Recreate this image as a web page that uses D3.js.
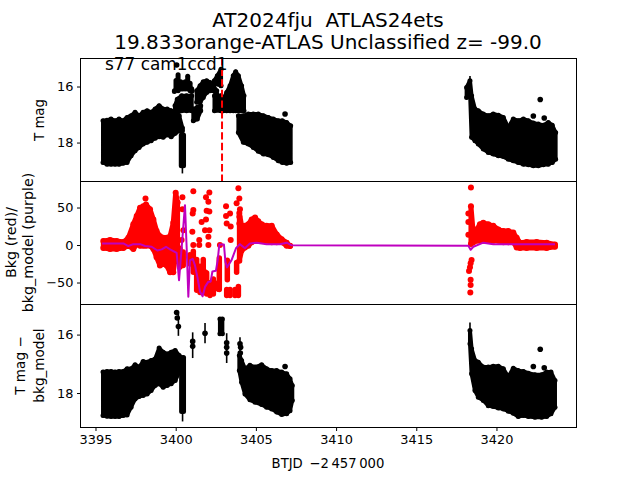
<!DOCTYPE html>
<html><head><meta charset="utf-8">
<script src="https://cdnjs.cloudflare.com/ajax/libs/d3/7.8.5/d3.min.js"></script>
<style>html,body{margin:0;padding:0;background:#fff}svg{display:block;font-family:"DejaVu Sans",sans-serif}text{white-space:pre}</style>
</head><body><div id="chart"></div>
<script>
// ---- Data ----
const titleLines = ["AT2024fju  ATLAS24ets", "19.833orange-ATLAS Unclassified z= -99.0"];
const noteText = "s77 cam1ccd1";
const xTicks = [3395, 3400, 3405, 3410, 3415, 3420];
const magTicks = [16, 18];
const bkgTicks = [50, 0, -50];
const markTime = 3402.92;

const mainT = [3395.5,3395.75,3396,3396.25,3396.5,3396.75,3397,3397.25,3397.5,3397.75,3398,3398.25,3398.5,3398.75,3399,3399.25,3399.5,3399.75,3400,3400.25,3400.45];
const topMainHi = [17.24,17.22,17.18,17.24,17.18,17.24,17.12,17.06,16.94,17.06,16.94,16.88,16.94,16.82,16.70,16.82,16.82,16.88,17.0,17.06,17.5];
const topMainLo = [18.73,18.79,18.79,18.79,18.79,18.76,18.73,18.49,18.31,18.19,18.07,18.01,17.95,17.86,17.81,17.83,17.74,17.81,17.69,17.6,17.6];
const lowMainT = [3395.5,3395.75,3396,3396.25,3396.5,3396.75,3397,3397.25,3397.5,3397.75,3398,3398.25,3398.5,3398.75,3399,3399.25,3399.5,3399.75,3400,3400.25];
const lowMainHi = [17.30,17.28,17.28,17.30,17.28,17.28,17.19,17.19,17.05,17.13,16.94,16.96,16.90,16.85,16.48,16.62,16.68,16.62,16.56,16.73];
const lowMainLo = [18.79,18.81,18.82,18.82,18.82,18.79,18.77,18.50,18.22,18.14,18.10,18.05,17.93,17.76,17.70,17.82,17.76,17.70,17.59,17.30];

const dipT = [3400.38,3400.52];
const topDipHi = [17.75,17.75];
const topDipLo = [18.85,18.85];
const blobT = [3399.95,3400.05,3400.18,3400.35,3400.47,3400.62,3400.78,3400.93,3401.03];
const blobHi = [16.2,15.8,15.6,15.85,16.0,15.85,15.65,15.9,16.1];
const blobLo = [16.17,16.11,16.17,16.11,16.11,16.11,16.11,16.17,16.2];
const shelfT = [3399.99,3400.13,3400.40,3400.71,3401.03];
const shelfHi = [16.70,16.47,16.35,16.35,16.35];
const shelfLo = [16.95,16.95,16.88,16.88,16.88];
const knobT = [3401.13,3401.38,3401.59];
const knobHi = [16.82,16.76,16.70];
const knobLo = [17.24,17.18,16.88];
const archT = [3401.34,3401.55,3401.75,3401.96,3402.17,3402.38,3402.59];
const archHi = [16.17,15.99,15.85,15.81,15.87,15.99,16.17];
const archLo = [16.58,16.58,16.41,16.23,16.17,16.17,16.29];
const postT = [3402.45,3402.85];
const postHi = [16.35,16.35];
const postLo = [16.88,16.88];
const peakT = [3402.44,3402.63,3402.86];
const peakHi = [15.81,15.63,15.40];
const peakLo = [15.87,15.93,15.99];
const moundT = [3403.0,3403.21,3403.42,3403.62,3403.77,3403.94,3404.14,3404.29];
const moundHi = [16.47,16.23,15.99,15.63,15.49,15.63,15.99,16.35];
const moundLo = [16.88,16.88,16.88,16.88,16.88,16.88,16.88,16.88];

const declineT   = [3403.94,3404.25,3404.56,3404.87,3405.18,3405.5,3405.81,3406.12,3406.43,3406.68,3406.95,3407.2];
const topDeclineHi = [17.06,17.06,17.0,17.0,17.0,17.06,17.12,17.18,17.24,17.24,17.3,17.42];
const topDeclineLo = [17.66,18.01,18.07,18.19,18.33,18.43,18.45,18.55,18.67,18.73,18.76,18.73];

const tailT = [3418.17,3418.38,3418.48,3418.69,3418.9,3419.21,3419.52,3419.83,3420.15,3420.46,3420.77,3421.08,3421.39,3421.71,3422.02,3422.33,3422.64,3422.95,3423.26,3423.51,3423.72];
const topTailHi = [16.05,15.81,16.35,16.82,16.88,17.0,17.06,17.0,17.04,17.12,17.48,17.18,17.24,17.18,17.24,17.32,17.36,17.4,17.3,17.4,17.66];
const topTailLo = [16.41,16.17,17.83,17.95,18.07,18.25,18.37,18.43,18.49,18.52,18.61,18.67,18.73,18.79,18.81,18.85,18.85,18.81,18.79,18.73,18.61];

const topDotT = [3400.09,3406.85,3422.76,3422.33,3423.01];
const topDotM = [15.25,17.0,16.48,17.07,17.14];
const topBarT  = [3400.45,3418.38];
const topBarHi = [17.9,15.64];
const topBarLo = [19.12,16.2];

const lowDipT  = [3400.4,3400.52];
const lowDipHi = [16.8,16.8];
const lowDipLo = [18.65,18.65];
const lowBlobT  = [3402.79,3402.94];
const lowBlobHi = [15.48,15.48];
const lowBlobLo = [15.99,15.99];
const lowDeclineT  = [3404.0,3404.14,3404.35,3404.66,3404.98,3405.39,3405.7,3406.02,3406.33,3406.64,3406.95,3407.16,3407.3];
const lowDeclineHi = [16.73,16.9,17.19,17.07,17.13,17.05,17.19,17.25,17.25,17.3,17.36,17.53,17.76];
const lowDeclineLo = [17.25,17.65,18.05,18.25,18.33,18.41,18.5,18.56,18.67,18.75,18.73,18.62,18.27];
const lowTailT  = [3418.38,3418.48,3418.69,3418.9,3419.21,3419.52,3419.83,3420.15,3420.46,3420.77,3421.08,3421.39,3421.71,3422.02,3422.43,3422.85,3423.16,3423.43,3423.68];
const lowTailHi = [15.88,16.5,16.9,16.96,17.13,17.13,17.1,17.1,17.19,17.47,17.17,17.25,17.28,17.34,17.39,17.39,17.3,17.3,17.59];
const lowTailLo = [16.33,17.36,17.93,18.16,18.27,18.45,18.48,18.53,18.56,18.64,18.71,18.82,18.79,18.82,18.85,18.85,18.82,18.73,18.5];
const lowDotT = [3400.09,3400.13,3400.2,3401.09,3401.09,3401.86,3403.21,3403.21,3403.21,3404.04,3404.08,3404.06,3406.85,3422.76,3422.33,3423.01];
const lowDotM = [15.26,15.45,15.74,16.25,16.42,15.97,16.3,16.45,16.65,16.33,16.45,16.65,17.11,16.52,17.11,17.15];
const lowBarT  = [3400.2,3400.46,3401.09,3401.86,3403.21,3404.04,3418.38];
const lowBarHi = [15.3,16.8,15.94,15.62,15.97,16.11,15.6];
const lowBarLo = [16.06,18.99,16.82,16.31,16.99,17.0,16.2];

const redLeftT  = [3395.52,3395.94,3396.35,3396.77,3397.08,3397.39,3397.6,3397.81,3398.01,3398.18,3398.43,3398.64,3398.84,3399.05,3399.26,3399.47,3399.68,3399.88,3400.03,3400.15];
const redLeftHi = [4.7,6,4.7,3.3,9,27,38,49,51,53.5,47,33.5,18,11,9,9,11,29,69,56];
const redLeftLo = [-4.7,-6,-6,-4.7,-1.5,-6,0.7,-1.5,-1.5,-1.5,-1.5,-6,-17,-28,-26,-28,-37,-37,-13,-22];
const redMassT  = [3400.92,3401.13,3401.34,3401.55,3401.75,3401.96,3402.17,3402.38,3402.69,3402.75,3403.25,3403.21,3403.42,3403.73,3403.94,3403.83,3400.3,3400.5];
const redMassHi = [-13.5,-9,-20,-29,-20,-38,-51,-46,-51,-18,-21,-60,-60,-60,-56,-24,-5,-10];
const redMassLo = [-26,-37,-61,-64,-64,-66,-68,-66,-59.5,-60,-47,-68,-68,-68,-68,-37,-30,-28];
const redHillT  = [3404,3404.14,3404.35,3404.56,3404.77,3404.98,3405.18,3405.39,3405.7,3406.02,3406.33,3406.64,3406.95,3407.16];
const redHillHi = [42,25,25,27,33.5,36,31,27,25,25,13.5,7,2.5,-2];
const redHillLo = [-21.5,-8,-4,-1.5,3,5,5,5,5,3,3,3,-1.5,-1.5];
const redTailT  = [3418.44,3418.59,3418.8,3419.0,3419.21,3419.52,3419.83,3420.15,3420.46,3420.77,3421.08,3421.29,3421.5,3421.91,3422.54,3423.16,3423.68];
const redTailHi = [51,13.5,20,27,29,27,25,20,18,18,16,9,2.5,3.3,3.3,2.5,0.2];
const redTailLo = [0.7,3,5,5,5,5,5,5,3,3,3,-4,-4.7,-4.7,-4.7,-4.7,-3];
const redDotT = [3398.15,3401.86,3418.28,3400.45,3400.45,3401.13,3401.13,3401.09,3401.07,3401.5,3401.5,3401.13,3400.51,3400.4,3402.13,3401.92,3402.07,3401.96,3402.13,3401.65,3401.92,3401.86,3402.13,3402.07,3402.07,3403.17,3403.42,3403.17,3403.21,3403.46,3403.46,3402.79,3403.94,3404,3403.83,3404.04,3404,3404,3418.44,3418.28,3418.28,3418.48,3418.42,3418.38,3418.32,3418.42,3418.42,3418.4];
const redDotV = [61.5,-37,13,63,47,71,46,41.5,17,6,-0.7,-0.7,19,6,69.5,63,57,45,44,30,33.5,19,19,10.5,-0.7,51,41.5,38,28,24,6,-0.7,75,61.5,55,47,37,28,76,41.5,30,-20.7,-25,-30.4,-35.3,-47,-54,-64];

const modelT = [3395.44,3396.77,3397.08,3397.39,3397.81,3398.12,3398.53,3398.89,3399.16,3399.43,3399.68,3400.09,3400.24,3400.40,3400.61,3400.72,3400.82,3400.92,3401.09,3401.23,3401.38,3401.55,3401.71,3401.86,3402.07,3402.21,3402.32,3402.54,3402.65,3402.75,3403.04,3403.13,3403.23,3403.52,3403.79,3404.04,3404.35,3404.66,3405.08,3405.70,3406.53,3406.95,3407.26,3418.28,3418.42,3418.59,3419.21,3419.83,3421.7,3423.68];
const modelV = [1.5,1.5,-2,0.5,0.5,-2,-3,-8,-6.5,-3,-6.5,-11,-47.5,-5,52.5,-7,-69.5,-21,-19,-27.5,-43,-63,-69,-56.5,-49.5,-49.5,-36,-35,-21,0,0,-23,-30.5,-20.5,-5,0.5,-5,1.5,2.5,0.5,0.5,2.5,-1,-1.5,-7,-3,2.5,0.5,0.5,0.5];

// ---- Drawing ----
const W = 640, H = 480, L = 80, R = 576;
const svg = d3.select("#chart").append("svg").attr("width", W).attr("height", H);
const x = d3.scaleLinear().domain([3394.065, 3424.99]).range([L, R]);
const yTop = d3.scaleLinear().domain([15, 19.39]).range([58, 181]);
const yMid = d3.scaleLinear().domain([84.7, -79.3]).range([181, 304]);
const yLow = d3.scaleLinear().domain([14.97, 19.18]).range([304, 427]);

function dots(g, t, v, y, color, r) {
  g.append("g").selectAll("circle").data(t).join("circle")
    .attr("cx", d => x(d)).attr("cy", (d, i) => y(v[i])).attr("r", r).attr("fill", color);
}
function band(g, t, hi, lo, y, color, w) {
  const a = d3.area().x(d => x(d)).y0((d, i) => y(hi[i])).y1((d, i) => y(lo[i]));
  g.append("path").datum(t).attr("d", a).attr("fill", color).attr("stroke", color)
    .attr("stroke-width", w - 1).attr("stroke-linejoin", "round");
  dots(g, t, hi, y, color, w / 2);
  dots(g, t, lo, y, color, w / 2);
}
function cols(g, t, hi, lo, y, color, w) {
  g.append("g").selectAll("line").data(t).join("line")
    .attr("x1", d => x(d)).attr("x2", d => x(d))
    .attr("y1", (d, i) => y(hi[i])).attr("y2", (d, i) => y(lo[i]))
    .attr("stroke", color).attr("stroke-width", w).attr("stroke-linecap", "round");
}
function bars(g, t, hi, lo, y) {
  g.append("g").selectAll("line").data(t).join("line")
    .attr("x1", d => x(d)).attr("x2", d => x(d))
    .attr("y1", (d, i) => y(hi[i])).attr("y2", (d, i) => y(lo[i]))
    .attr("stroke", "#000").attr("stroke-width", 1.6);
}

const gTop = svg.append("g"), gMid = svg.append("g"), gLow = svg.append("g");

band(gTop, mainT, topMainHi, topMainLo, yTop, "#000", 5);
cols(gTop, dipT, topDipHi, topDipLo, yTop, "#000", 5);
cols(gTop, blobT, blobHi, blobLo, yTop, "#000", 5);
band(gTop, shelfT, shelfHi, shelfLo, yTop, "#000", 5);
band(gTop, knobT, knobHi, knobLo, yTop, "#000", 5);
band(gTop, archT, archHi, archLo, yTop, "#000", 5);
band(gTop, postT, postHi, postLo, yTop, "#000", 5);
band(gTop, peakT, peakHi, peakLo, yTop, "#000", 5);
band(gTop, moundT, moundHi, moundLo, yTop, "#000", 5);
band(gTop, declineT, topDeclineHi, topDeclineLo, yTop, "#000", 5);
band(gTop, tailT, topTailHi, topTailLo, yTop, "#000", 5);
dots(gTop, topDotT, topDotM, yTop, "#000", 2.8);
bars(gTop, topBarT, topBarHi, topBarLo, yTop);
gTop.append("line").attr("x1", x(markTime)).attr("x2", x(markTime))
  .attr("y1", 58).attr("y2", 181).attr("stroke", "#f00").attr("stroke-width", 2)
  .attr("stroke-dasharray", "7.4,3.2");

band(gMid, redLeftT, redLeftHi, redLeftLo, yMid, "#f00", 6);
cols(gMid, redMassT, redMassHi, redMassLo, yMid, "#f00", 5.5);
band(gMid, redHillT, redHillHi, redHillLo, yMid, "#f00", 6);
band(gMid, redTailT, redTailHi, redTailLo, yMid, "#f00", 6);
dots(gMid, redDotT, redDotV, yMid, "#f00", 3);
gMid.append("path").datum(modelT)
  .attr("d", d3.line().x(d => x(d)).y((d, i) => yMid(modelV[i])))
  .attr("fill", "none").attr("stroke", "#bf00bf").attr("stroke-width", 2).attr("stroke-linejoin", "round");

band(gLow, lowMainT, lowMainHi, lowMainLo, yLow, "#000", 5);
cols(gLow, lowDipT, lowDipHi, lowDipLo, yLow, "#000", 5);
band(gLow, lowBlobT, lowBlobHi, lowBlobLo, yLow, "#000", 5);
band(gLow, lowDeclineT, lowDeclineHi, lowDeclineLo, yLow, "#000", 5);
band(gLow, lowTailT, lowTailHi, lowTailLo, yLow, "#000", 5);
dots(gLow, lowDotT, lowDotM, yLow, "#000", 2.8);
bars(gLow, lowBarT, lowBarHi, lowBarLo, yLow);

const fs = 12.9;
const minus = s => String(s).replace("-", "\u2212");
function frame(y, ticks) {
  const [a, b] = y.range();
  svg.append("rect").attr("x", L + .5).attr("y", a + .5).attr("width", R - L).attr("height", b - a)
    .attr("fill", "none").attr("stroke", "#000").attr("stroke-width", 1);
  const ax = svg.append("g").attr("transform", `translate(${L + .5},.5)`)
    .call(d3.axisLeft(y).tickValues(ticks).tickSize(3.5).tickPadding(3.5).tickFormat(minus));
  style(ax);
}
function style(ax) {
  ax.select(".domain").remove();
  ax.selectAll("text").attr("font-size", fs).attr("font-family", '"DejaVu Sans"').attr("fill", "#000");
  ax.selectAll("line").attr("stroke", "#000").attr("stroke-width", 1);
}
frame(yTop, magTicks); frame(yMid, bkgTicks); frame(yLow, magTicks);
const xa = svg.append("g").attr("transform", "translate(.5,427.5)")
  .call(d3.axisBottom(x).tickValues(xTicks).tickSize(3.5).tickPadding(3.5).tickFormat(d3.format("d")));
style(xa);

const label = (t, px, py, size, rot) => {
  const s = svg.append("text").text(t).attr("font-size", size).attr("fill", "#000").attr("text-anchor", "middle");
  if (rot) s.attr("transform", `translate(${px},${py}) rotate(-90)`); else s.attr("x", px).attr("y", py);
  return s;
};
label(titleLines[0], 328, 27, 20, false);
label(titleLines[1], 328, 49, 20, false);
svg.append("text").text(noteText).attr("x", 105).attr("y", 70).attr("font-size", 16.9).attr("fill", "#000");
label("T mag", 44, 120, 13.3, true);
label("Bkg (red)/", 16, 242.5, 14.3, true);
label("bkg_model (purple)", 33, 242.5, 14.3, true);
label("T mag \u2212", 25, 365.5, 13.6, true);
label("bkg_model", 44, 365.5, 13.6, true);
label("BTJD\u2002\u22122\u2009457\u2009000", 328, 468, 13.2, false);
</script></body></html>
